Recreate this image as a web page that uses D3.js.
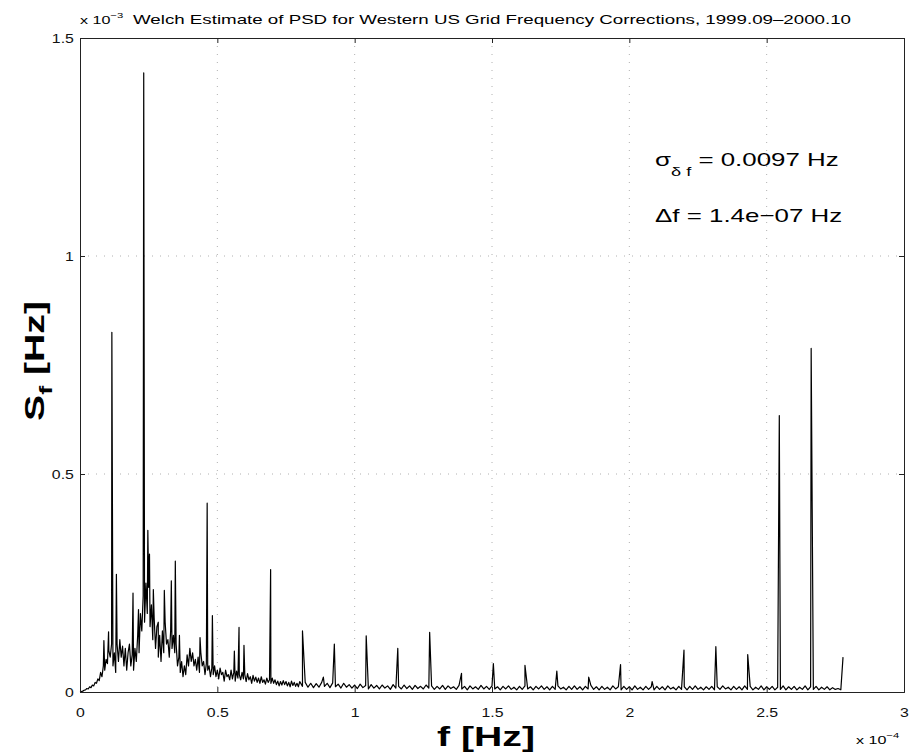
<!DOCTYPE html>
<html>
<head>
<meta charset="utf-8">
<script src="https://cdn.jsdelivr.net/npm/d3@7"></script>
<style>
  body { margin: 0; background: #fff; }
  svg { font-family: "Liberation Sans", Arial, sans-serif; }
</style>
</head>
<body>
<div id="chart"></div>
<script>
// frequency in units of 1e-4 Hz, PSD in units of 1e-3 Hz (axis multipliers)

// low band, one value per 5e-7 Hz from 0 to 0.795e-4
const lowStep = 0.005
const lowBand = [
  0, 0.001, 0.002, 0.004, 0.005, 0.008, 0.007, 0.012, 0.01, 0.016,
  0.014, 0.022, 0.02, 0.03, 0.026, 0.045, 0.035, 0.06, 0.05, 0.075,
  0.065, 0.095, 0.08, 0.11, 0.06, 0.09, 0.045, 0.11, 0.07, 0.12,
  0.08, 0.105, 0.06, 0.1, 0.05, 0.09, 0.11, 0.06, 0.085, 0.05,
  0.1, 0.07, 0.13, 0.09, 0.18, 0.14, 0.22, 0.16, 0.25, 0.18,
  0.24, 0.15, 0.2, 0.12, 0.17, 0.1, 0.15, 0.08, 0.13, 0.07,
  0.14, 0.09, 0.16, 0.11, 0.12, 0.08, 0.14, 0.1, 0.13, 0.09,
  0.11, 0.06, 0.08, 0.045, 0.07, 0.035, 0.06, 0.04, 0.085, 0.06,
  0.1, 0.07, 0.09, 0.06, 0.075, 0.05, 0.08, 0.045, 0.09, 0.06,
  0.07, 0.04, 0.065, 0.05, 0.06, 0.035, 0.055, 0.04, 0.06, 0.035,
  0.05, 0.03, 0.055, 0.04, 0.045, 0.025, 0.05, 0.035, 0.04, 0.028,
  0.05, 0.03, 0.045, 0.025, 0.048, 0.032, 0.04, 0.028, 0.045, 0.03,
  0.04, 0.024, 0.042, 0.028, 0.035, 0.02, 0.038, 0.025, 0.034, 0.022,
  0.032, 0.02, 0.035, 0.022, 0.028, 0.018, 0.032, 0.022, 0.028, 0.02,
  0.032, 0.02, 0.028, 0.017, 0.025, 0.014, 0.024, 0.016, 0.026, 0.017,
  0.024, 0.014, 0.022, 0.012, 0.025, 0.015, 0.022, 0.013, 0.02, 0.012
]

// high band, one value per 1e-6 Hz from 0.80e-4 to 2.77e-4
const highStart = 0.8
const highStep = 0.01
const highBand = [
  0.024, 0.013, 0.022, 0.011, 0.02, 0.01, 0.019, 0.011, 0.022, 0.013,
  0.02, 0.01, 0.021, 0.012, 0.018, 0.009, 0.02, 0.011, 0.017, 0.009,
  0.016, 0.008, 0.018, 0.01, 0.015, 0.007, 0.017, 0.009, 0.015, 0.007,
  0.016, 0.009, 0.014, 0.006, 0.017, 0.009, 0.013, 0.007, 0.016, 0.008,
  0.014, 0.006, 0.015, 0.008, 0.013, 0.007, 0.016, 0.009, 0.014, 0.006,
  0.013, 0.007, 0.015, 0.006, 0.014, 0.008, 0.012, 0.006, 0.015, 0.007,
  0.013, 0.005, 0.014, 0.007, 0.012, 0.006, 0.015, 0.007, 0.013, 0.006,
  0.014, 0.007, 0.012, 0.005, 0.013, 0.007, 0.014, 0.006, 0.011, 0.005,
  0.013, 0.006, 0.014, 0.007, 0.012, 0.005, 0.013, 0.007, 0.014, 0.006,
  0.012, 0.005, 0.013, 0.006, 0.014, 0.007, 0.011, 0.005, 0.013, 0.006,
  0.014, 0.006, 0.012, 0.005, 0.013, 0.007, 0.015, 0.006, 0.012, 0.005,
  0.013, 0.006, 0.011, 0.005, 0.014, 0.007, 0.012, 0.005, 0.013, 0.006,
  0.012, 0.005, 0.014, 0.006, 0.011, 0.005, 0.013, 0.006, 0.012, 0.005,
  0.013, 0.006, 0.012, 0.005, 0.014, 0.007, 0.011, 0.005, 0.013, 0.006,
  0.012, 0.005, 0.013, 0.006, 0.014, 0.006, 0.011, 0.005, 0.012, 0.006,
  0.013, 0.005, 0.012, 0.006, 0.014, 0.007, 0.011, 0.005, 0.013, 0.006,
  0.012, 0.005, 0.014, 0.006, 0.013, 0.005, 0.011, 0.006, 0.014, 0.005,
  0.012, 0.006, 0.013, 0.005, 0.011, 0.006, 0.014, 0.005, 0.012, 0.006,
  0.013, 0.005, 0.011, 0.006, 0.014, 0.005, 0.012, 0.006, 0.013, 0.005,
  0.011, 0.006, 0.012, 0.005, 0.01, 0.006, 0.008, 0.005
]

// daily harmonics (n / 86400 s)
const harmonicF = [0.116, 0.232, 0.347, 0.463, 0.579, 0.694, 0.810, 0.926, 1.042, 1.157, 1.273, 1.389,
  1.505, 1.620, 1.736, 1.852, 1.968, 2.083, 2.199, 2.315, 2.431, 2.546, 2.662, 2.778]
const harmonicS = [0.825, 1.42, 0.30, 0.433, 0.148, 0.281, 0.14, 0.11, 0.129, 0.10, 0.137, 0.043,
  0.065, 0.061, 0.048, 0.034, 0.063, 0.024, 0.096, 0.104, 0.086, 0.634, 0.788, 0.08]

// smaller spikes in the low-frequency band
const spikeF = [0.087, 0.104, 0.1325, 0.145, 0.193, 0.213, 0.247, 0.253, 0.267, 0.285, 0.307, 0.3325,
  0.362, 0.437, 0.482, 0.562, 0.597, 0.886]
const spikeS = [0.118, 0.138, 0.27, 0.12, 0.227, 0.189, 0.371, 0.316, 0.235, 0.16, 0.233, 0.255,
  0.13, 0.125, 0.175, 0.094, 0.107, 0.034]

const xTicks = [0, 0.5, 1, 1.5, 2, 2.5, 3]
const yTicks = [0, 0.5, 1, 1.5]

// the figure text is stretched sideways in the picture
const stretch = 1.4

function draw() {
  const dimensions = {
    width: 909,
    height: 754,
    left: 80,
    right: 5,
    top: 38,
    bottom: 62
  }
  dimensions.ctrWidth = dimensions.width - dimensions.left - dimensions.right
  dimensions.ctrHeight = dimensions.height - dimensions.top - dimensions.bottom

  // merge everything into one series
  const dataset = lowBand.map((s, i) => ({ f: i * lowStep, s }))
    .concat(highBand.map((s, i) => ({ f: highStart + i * highStep, s })))
    .concat(harmonicF.map((f, i) => ({ f, s: harmonicS[i] })))
    .concat(spikeF.map((f, i) => ({ f, s: spikeS[i] })))
    .sort((a, b) => a.f - b.f)

  const svg = d3.select('#chart')
    .append('svg')
    .attr('width', dimensions.width)
    .attr('height', dimensions.height)

  const ctr = svg.append('g')
    .attr('transform', `translate(${dimensions.left}, ${dimensions.top})`)

  // Scales
  const xScale = d3.scaleLinear()
    .domain([0, 3])
    .range([0, dimensions.ctrWidth])
  const yScale = d3.scaleLinear()
    .domain([0, 1.5])
    .range([dimensions.ctrHeight, 0])

  // dotted grid
  const grid = ctr.append('g')
    .attr('stroke', '#b0b0b0')
    .attr('stroke-dasharray', '1,7')
  grid.selectAll('.vgrid')
    .data(xTicks.slice(1, -1))
    .join('line')
    .attr('x1', d => xScale(d)).attr('x2', d => xScale(d))
    .attr('y1', 0).attr('y2', dimensions.ctrHeight)
  grid.selectAll('.hgrid')
    .data(yTicks.slice(1, -1))
    .join('line')
    .attr('x1', 0).attr('x2', dimensions.ctrWidth)
    .attr('y1', d => yScale(d)).attr('y2', d => yScale(d))

  // PSD line
  const line = d3.line()
    .x(d => xScale(d.f))
    .y(d => yScale(d.s))
  ctr.append('path')
    .datum(dataset)
    .attr('d', line)
    .attr('fill', 'none')
    .attr('stroke', '#000')
    .attr('stroke-width', 1.2)
    .attr('stroke-linejoin', 'round')

  // axes, ticks pointing in (matlab style)
  const fmt = d => String(d)
  const xAxis = d3.axisBottom(xScale).tickValues(xTicks).tickFormat(fmt).tickSize(-5).tickPadding(16)
  const xAxisTop = d3.axisTop(xScale).tickValues(xTicks).tickFormat('').tickSize(-5)
  const yAxis = d3.axisLeft(yScale).tickValues(yTicks).tickFormat(fmt).tickSize(-5).tickPadding(5)
  const yAxisRight = d3.axisRight(yScale).tickValues(yTicks).tickFormat('').tickSize(-5)

  const axes = [
    ctr.append('g').attr('transform', `translate(0, ${dimensions.ctrHeight})`).call(xAxis),
    ctr.append('g').call(xAxisTop),
    ctr.append('g').call(yAxis),
    ctr.append('g').attr('transform', `translate(${dimensions.ctrWidth}, 0)`).call(yAxisRight)
  ]
  axes.forEach(g => {
    g.select('.domain').attr('stroke', '#222')
    g.selectAll('.tick line').attr('stroke', '#222')
    g.selectAll('.tick text')
      .attr('fill', '#111')
      .attr('transform', 'scale(1.22,1)')
      .style('font-size', '13px')
      .style('font-family', '"Liberation Sans", Arial, sans-serif')
  })

  // stretched text helper
  const label = (x, y, rotate) => svg.append('g')
    .attr('transform', `translate(${x}, ${y})${rotate ? ' rotate(-90)' : ''} scale(${stretch}, 1)`)
    .append('text')

  // exponent labels
  const expTop = label(80, 24).attr('font-size', 11.5)
  expTop.append('tspan').text('x 10')
  expTop.append('tspan').attr('dy', -6).attr('font-size', 8).text('−3')

  const expBottom = label(856, 744).attr('font-size', 11.5)
  expBottom.append('tspan').text('x 10')
  expBottom.append('tspan').attr('dy', -6).attr('font-size', 8).text('−4')

  // title
  label(133, 24)
    .attr('font-size', 13)
    .attr('textLength', 718 / stretch)
    .attr('lengthAdjust', 'spacingAndGlyphs')
    .text('Welch Estimate of PSD for Western US Grid Frequency Corrections, 1999.09–2000.10')

  // axis labels
  label(486, 746)
    .attr('text-anchor', 'middle')
    .attr('font-size', 28)
    .attr('font-weight', 'bold')
    .text('f [Hz]')

  const yLabel = label(44, 361, true)
    .attr('text-anchor', 'middle')
    .attr('font-size', 28)
    .attr('font-weight', 'bold')
  yLabel.append('tspan').text('S')
  yLabel.append('tspan').attr('dy', 8).attr('font-size', 19).text('f')
  yLabel.append('tspan').attr('dy', -8).text(' [Hz]')

  // annotations
  const sigma = label(655, 166).attr('font-size', 18.5)
  sigma.append('tspan').text('σ')
  sigma.append('tspan').attr('dy', 10).attr('font-size', 13).text('δ f')
  sigma.append('tspan').attr('dy', -10).text(' = 0.0097 Hz')

  label(655, 222)
    .attr('font-size', 18.5)
    .text('Δf = 1.4e−07 Hz')
}

draw()
</script>
</body>
</html>
